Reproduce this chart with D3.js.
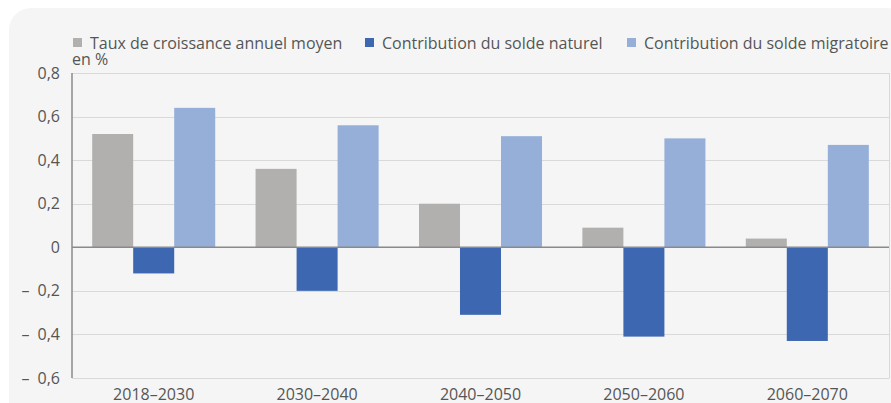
<!DOCTYPE html>
<html><head><meta charset="utf-8">
<script src="https://cdn.jsdelivr.net/npm/d3@7"></script>
<style>html,body{margin:0;padding:0;background:#fff;}svg{display:block;font-family:"Open Sans",sans-serif;}</style>
</head><body>
<svg id="c" width="891" height="403"></svg>
<script>
const categories = ["2018–2030","2030–2040","2040–2050","2050–2060","2060–2070"];
const seriesNames = ["Taux de croissance annuel moyen","Contribution du solde naturel","Contribution du solde migratoire"];
const taux = [0.52, 0.36, 0.20, 0.09, 0.04];
const naturel = [-0.12, -0.20, -0.31, -0.41, -0.43];
const migratoire = [0.64, 0.56, 0.51, 0.50, 0.47];
const tickValues = [-0.6,-0.4,-0.2,0,0.2,0.4,0.6,0.8];
const colors = ["#b1b0ae","#3d67b0","#95afd9"];

const seriesData = [taux, naturel, migratoire];
const svg = d3.select("#c");
svg.append("rect").attr("x",9).attr("y",8).attr("width",900).attr("height",420).attr("rx",22).attr("fill","#f5f5f5");

const L=72, R=889, T=73, B=378;
const x0 = d3.scaleBand().domain(categories).range([L,R]).paddingInner(0.247).paddingOuter(0.1235);
const x1 = d3.scaleBand().domain(seriesNames).range([0,x0.bandwidth()]);
const y = d3.scaleLinear().domain([-0.6,0.8]).range([B,T]);

const fmt = v => {
  if (Math.abs(v) < 1e-9) return "0";
  const s = Math.abs(v).toFixed(1).replace(".",",");
  return v < 0 ? "–\u2002" + s : s;
};

// gridlines
svg.append("g").selectAll("line").data(tickValues.filter(v=>v!==0)).join("line")
  .attr("x1",L).attr("x2",R).attr("y1",d=>Math.round(y(d))+0.5).attr("y2",d=>Math.round(y(d))+0.5)
  .attr("stroke","#d9d9d9").attr("stroke-width",1);
// right border
svg.append("line").attr("x1",R+0.5).attr("x2",R+0.5).attr("y1",T).attr("y2",B).attr("stroke","#d9d9d9");

// y axis
const yAxis = d3.axisLeft(y).tickValues(tickValues).tickFormat(fmt).tickSize(0).tickPadding(12);
const ga = svg.append("g").attr("transform",`translate(${L},0)`).call(yAxis);
ga.select(".domain").remove();
ga.selectAll("text").attr("fill","#555").style("font-size","16px").style("font-family","'Open Sans',sans-serif");

// bars
const g = svg.append("g");
categories.forEach((c,i)=>{
  seriesNames.forEach((s,j)=>{
    const v = seriesData[j][i];
    g.append("rect")
      .attr("x", x0(c)+x1(s))
      .attr("width", x1.bandwidth())
      .attr("y", y(Math.max(0,v)))
      .attr("height", Math.abs(y(v)-y(0)))
      .attr("fill", colors[j]);
  });
});

// zero line and left axis
svg.append("line").attr("x1",L).attr("x2",R).attr("y1",y(0)).attr("y2",y(0)).attr("stroke","#8a8a8a").attr("stroke-width",1.5);
svg.append("line").attr("x1",L).attr("x2",L).attr("y1",T).attr("y2",B).attr("stroke","#8a8a8a").attr("stroke-width",1.5);

// x axis labels
const xAxis = d3.axisBottom(x0).tickSize(0).tickPadding(11);
const gx = svg.append("g").attr("transform",`translate(0,${B})`).call(xAxis);
gx.select(".domain").attr("stroke","#d9d9d9");
gx.selectAll("text").attr("fill","#555").style("font-size","16px").style("font-family","'Open Sans',sans-serif");

// legend
const legX = [73, 365, 627];
seriesNames.forEach((s,j)=>{
  svg.append("rect").attr("x",legX[j]).attr("y",38).attr("width",9).attr("height",9).attr("fill",colors[j]);
  svg.append("text").attr("x",legX[j]+17).attr("y",48.5).attr("fill","#555").style("font-size","16px").text(s);
});
svg.append("text").attr("x",72).attr("y",65).attr("fill","#555").style("font-size","16px").text("en %");
</script>
</body></html>
